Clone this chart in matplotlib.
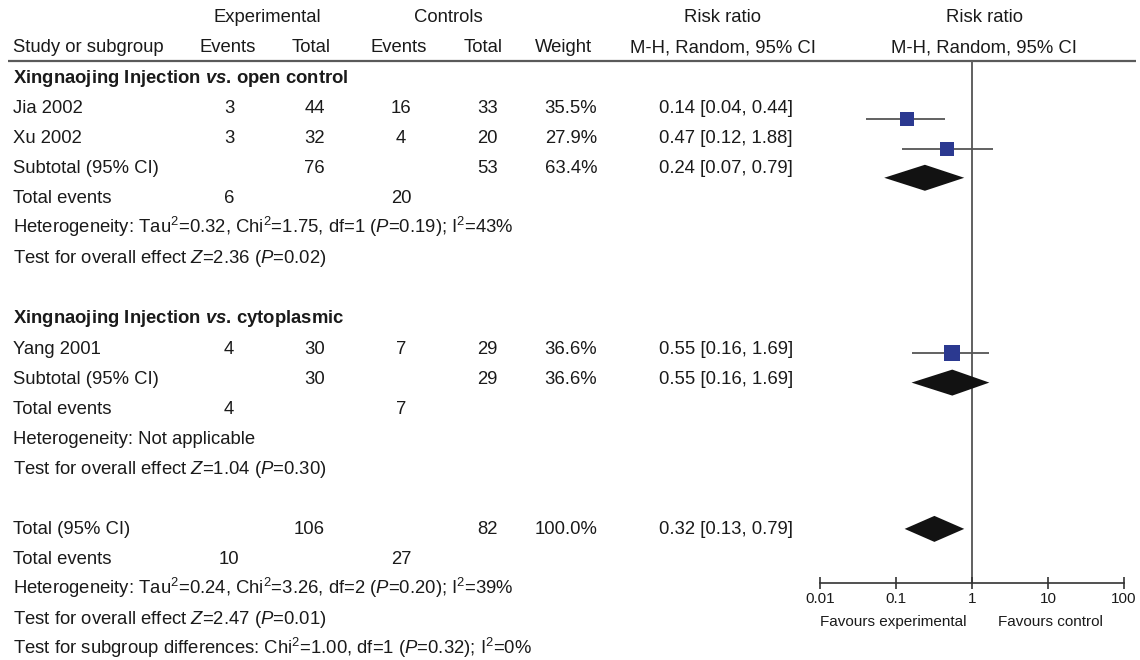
import matplotlib
matplotlib.use("Agg")
import matplotlib.pyplot as plt
from matplotlib.patches import Polygon
import numpy as np

plt.rcParams['font.family'] = ['Liberation Sans', 'DejaVu Sans']
plt.rcParams['mathtext.fontset'] = 'custom'
plt.rcParams['mathtext.rm'] = 'Liberation Sans'
plt.rcParams['mathtext.it'] = 'Liberation Sans:italic'
plt.rcParams['mathtext.bf'] = 'Liberation Sans:bold'
plt.rcParams['mathtext.bfit'] = 'Liberation Sans:bold:italic'

# ---------------- data ----------------
subgroups = ["open control", "cytoplasmic"]
studies = ["Jia 2002", "Xu 2002", "Yang 2001"]
study_group = [0, 0, 1]
exp_events = [3, 3, 4]
exp_total = [44, 32, 30]
ctrl_events = [16, 4, 7]
ctrl_total = [33, 20, 29]
weights = [35.5, 27.9, 36.6]
rr = [0.14, 0.47, 0.55]
rr_lo = [0.04, 0.12, 0.16]
rr_hi = [0.44, 1.88, 1.69]

sub_exp_total = [76, 30]
sub_ctrl_total = [53, 29]
sub_weight = [63.4, 36.6]
sub_rr = [0.24, 0.55]
sub_lo = [0.07, 0.16]
sub_hi = [0.79, 1.69]
sub_exp_events = [6, 4]
sub_ctrl_events = [20, 7]
sub_het = ["Heterogeneity: Tau$^2$=0.32, Chi$^2$=1.75, df=1 ($P$=0.19); I$^2$=43%",
           "Heterogeneity: Not applicable"]
sub_test = ["Test for overall effect $Z$=2.36 ($P$=0.02)",
            "Test for overall effect $Z$=1.04 ($P$=0.30)"]

tot_exp_total = 106
tot_ctrl_total = 82
tot_weight = 100.0
tot_rr, tot_lo, tot_hi = 0.32, 0.13, 0.79
tot_exp_events = 10
tot_ctrl_events = 27
tot_het = "Heterogeneity: Tau$^2$=0.24, Chi$^2$=3.26, df=2 ($P$=0.20); I$^2$=39%"
tot_test = "Test for overall effect $Z$=2.47 ($P$=0.01)"
subgroup_test = "Test for subgroup differences: Chi$^2$=1.00, df=1 ($P$=0.32); I$^2$=0%"

xticks = [0.01, 0.1, 1, 10, 100]
xticklabels = ["0.01", "0.1", "1", "10", "100"]

# ---------------- layout ----------------
W, H = 1140, 660
fig = plt.figure(figsize=(W / 100, H / 100), dpi=100)
ax0 = fig.add_axes([0, 0, 1, 1])
ax0.set_xlim(0, W)
ax0.set_ylim(H, 0)
ax0.axis('off')

FS = 13.3
TC = '#1a1a1a'
TEXT_Y0, TEXT_PITCH = 82.6, 30.1  # baseline of row 0, pitch (px)

def ty(r):
    return TEXT_Y0 + TEXT_PITCH * r

X_LABEL = 13
X_EEV = 229
X_ETOT = 325
X_CEV = 401
X_CTOT = 498
X_W = 597
X_RR = 726
X_RH = 984

def put(x, r, s, ha='left', **kw):
    ax0.text(x, ty(r), s, ha=ha, va='baseline', fontsize=FS, color=TC, **kw)

# headers
put(267, -2, "Experimental", ha='center')
put(448, -2, "Controls", ha='center')
put(722, -2, "Risk ratio", ha='center')
put(X_RH, -2, "Risk ratio", ha='center')
put(X_LABEL, -1, "Study or subgroup")
put(228, -1, "Events", ha='center')
put(311, -1, "Total", ha='center')
put(399, -1, "Events", ha='center')
put(483, -1, "Total", ha='center')
put(563, -1, "Weight", ha='center')
put(723, -1, "M-H, Random, 95% CI", ha='center')
put(X_RH, -1, "M-H, Random, 95% CI", ha='center')
ax0.plot([8, 1136], [61, 61], color='#5a5a5a', lw=1.6, solid_capstyle='butt')

def fmt_ci(a, b, c):
    return f"{a:.2f} [{b:.2f}, {c:.2f}]"

# forest axes
AX_L, AX_R, AX_T, AX_B = 820, 1124, 61, 582.7
G_Y0, G_PITCH = 90.0, 29.26  # graphic row 0 centre and pitch (px)
ax = fig.add_axes([AX_L / W, (H - AX_B) / H, (AX_R - AX_L) / W, (AX_B - AX_T) / H])
ax.set_xscale('log')
ax.set_xlim(0.01, 100)
ax.set_ylim((AX_B - G_Y0) / G_PITCH, (AX_T - G_Y0) / G_PITCH)
for s in ['top', 'left', 'right']:
    ax.spines[s].set_visible(False)
ax.spines['bottom'].set_color('#333333')
ax.spines['bottom'].set_linewidth(1.2)
ax.set_yticks([])
ax.set_xticks(xticks)
ax.set_xticklabels(xticklabels)
ax.minorticks_off()
ax.tick_params(axis='x', direction='inout', length=8, width=1.2, color='#333333',
               labelsize=11, labelcolor=TC, pad=3)
ax.axvline(1, color='#606060', lw=1.4, zorder=1)
ax.patch.set_alpha(0)

DIAM_H = 13.0 / G_PITCH
SQ = '#2b3990'

def diamond(r, c, lo, hi):
    ax.add_patch(Polygon([(lo, r), (c, r - DIAM_H), (hi, r), (c, r + DIAM_H)],
                         closed=True, color='#121212', lw=0, zorder=3))

def study_mark(r, i):
    ax.hlines(r, rr_lo[i], rr_hi[i], color='#555555', lw=1.3, zorder=2)
    side_px = 2.5 * np.sqrt(weights[i])
    ax.scatter([rr[i]], [r], marker='s', s=(side_px * 0.72) ** 2, color=SQ,
               linewidths=0, zorder=4)

row = 0
for g, name in enumerate(subgroups):
    put(X_LABEL, row, r"Xingnaojing Injection $\mathbfit{vs}$. " + name, fontweight='bold')
    row += 1
    for i, st in enumerate(studies):
        if study_group[i] != g:
            continue
        put(X_LABEL, row, st)
        put(X_EEV, row, str(exp_events[i]), ha='center')
        put(X_ETOT, row, str(exp_total[i]), ha='right')
        put(X_CEV, row, str(ctrl_events[i]), ha='center')
        put(X_CTOT, row, str(ctrl_total[i]), ha='right')
        put(X_W, row, f"{weights[i]:.1f}%", ha='right')
        put(X_RR, row, fmt_ci(rr[i], rr_lo[i], rr_hi[i]), ha='center')
        study_mark(row, i)
        row += 1
    put(X_LABEL, row, "Subtotal (95% CI)")
    put(X_ETOT, row, str(sub_exp_total[g]), ha='right')
    put(X_CTOT, row, str(sub_ctrl_total[g]), ha='right')
    put(X_W, row, f"{sub_weight[g]:.1f}%", ha='right')
    put(X_RR, row, fmt_ci(sub_rr[g], sub_lo[g], sub_hi[g]), ha='center')
    diamond(row, sub_rr[g], sub_lo[g], sub_hi[g])
    row += 1
    put(X_LABEL, row, "Total events")
    put(X_EEV, row, str(sub_exp_events[g]), ha='center')
    put(X_CEV, row, str(sub_ctrl_events[g]), ha='center')
    row += 1
    put(X_LABEL, row, sub_het[g])
    row += 1
    put(X_LABEL, row, sub_test[g])
    row += 2

put(X_LABEL, row, "Total (95% CI)")
put(X_ETOT, row, str(tot_exp_total), ha='right')
put(X_CTOT, row, str(tot_ctrl_total), ha='right')
put(X_W, row, f"{tot_weight:.1f}%", ha='right')
put(X_RR, row, fmt_ci(tot_rr, tot_lo, tot_hi), ha='center')
diamond(row, tot_rr, tot_lo, tot_hi)
row += 1
put(X_LABEL, row, "Total events")
put(X_EEV, row, str(tot_exp_events), ha='center')
put(X_CEV, row, str(tot_ctrl_events), ha='center')
row += 1
put(X_LABEL, row, tot_het)
row += 1
put(X_LABEL, row, tot_test)
row += 1
put(X_LABEL, row, subgroup_test)

ax0.text(893, 622, "Favours experimental", ha='center', va='center', fontsize=11, color=TC)
ax0.text(1050, 622, "Favours control", ha='center', va='center', fontsize=11, color=TC)

fig.savefig("out.png", dpi=100)
